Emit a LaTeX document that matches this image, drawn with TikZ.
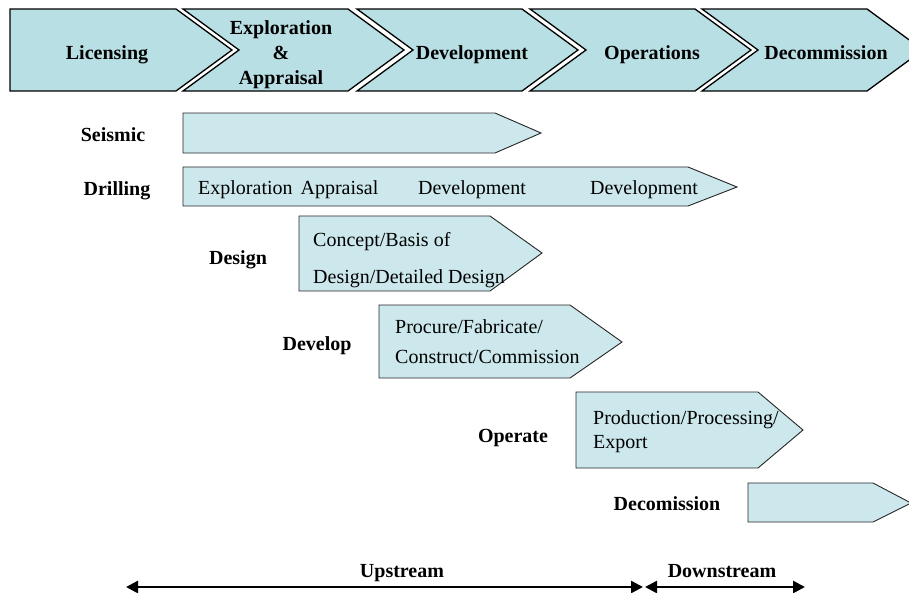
\documentclass[tikz,border=0pt]{standalone}
\usepackage{fontspec}
\setmainfont{Liberation Serif}
\usetikzlibrary{arrows.meta}

\definecolor{phaseblue}{RGB}{184,223,228}
\definecolor{barblue}{RGB}{204,232,236}

\tikzset{
  phase/.style={draw=black, line width=1.3pt, fill=phaseblue, line join=miter},
  bar/.style={draw=black!85, line width=0.9pt, fill=barblue, line join=miter},
  lbl/.style={font=\fontsize{20}{25}\selectfont\bfseries, text height=14pt, text depth=4pt, align=center},
  txt/.style={font=\fontsize{20}{24}\selectfont, text height=14pt, text depth=4pt},
  span/.style={line width=2.6pt, {Triangle[length=12pt,width=12pt]}-{Triangle[length=12pt,width=12pt]}}
}

\begin{document}
\begin{tikzpicture}[x=1pt,y=-1pt]
  \useasboundingbox (0,0) rectangle (909,592);

  % phase chevrons along the top
  \draw [phase] (10,9) -- (176,9) -- (232,50) -- (176,91) -- (10,91) -- cycle;
  \foreach \x in {183,357,530,702}
    \draw [phase] (\x,9) -- (\x+165,9) -- (\x+221,50) -- (\x+165,91) -- (\x,91) -- (\x+56,50) -- cycle;

  \node (lic) [lbl] at (107,54) {Licensing};
  \node (expl) [lbl, text height=, text depth=] at (281,55) {Exploration\\\&\\Appraisal};
  \node (dev) [lbl] at (472,54) {Development};
  \node (ops) [lbl] at (652,54) {Operations};
  \node (dec) [lbl] at (826,54) {Decommission};

  % activity bars
  \draw [bar] (183,113) -- (495,113) -- (541,133) -- (495,153) -- (183,153) -- cycle;
  \draw [bar] (183,167) -- (688,167) -- (737,187) -- (688,206) -- (183,206) -- cycle;
  \draw [bar] (299,216) -- (490,216) -- (542,253) -- (490,291) -- (299,291) -- cycle;
  \draw [bar] (379,305) -- (570,305) -- (622,342) -- (570,378) -- (379,378) -- cycle;
  \draw [bar] (576,392) -- (758,392) -- (803,430) -- (758,468) -- (576,468) -- cycle;
  \draw [bar] (748,483) -- (873,483) -- (911,503) -- (873,522) -- (748,522) -- cycle;

  \node (seis) [lbl] at (113,136) {Seismic};
  \node (drill) [lbl] at (117,190) {Drilling};
  \node (design) [lbl] at (238,259) {Design};
  \node (develop) [lbl] at (317,345) {Develop};
  \node (operate) [lbl] at (513,437) {Operate};
  \node (decom) [lbl] at (667,505) {Decomission};

  % texts inside the bars
  \node (drexpl) [txt, anchor=west, inner sep=0pt] at (198,189) {Exploration\hspace{3pt} Appraisal};
  \node (drdev) [txt] at (472,189) {Development};
  \node (drdevb) [txt] at (644,189) {Development};
  \node (destxt) [anchor=west, inner sep=0pt, align=left, font=\fontsize{20}{37}\selectfont] at (313,260) {Concept/Basis of\\Design/Detailed Design};
  \node (devtxt) [anchor=west, inner sep=0pt, align=left, font=\fontsize{20}{30}\selectfont] at (395,342) {Procure/Fabricate/\\Construct/Commission};
  \node (optxt) [anchor=west, inner sep=0pt, align=left, font=\fontsize{20}{24}\selectfont] at (593,432) {Production/Processing/\\Export};

  % upstream / downstream spans
  \coordinate (upL) at (126,587);
  \coordinate (upR) at (643,587);
  \coordinate (dnL) at (645,587);
  \coordinate (dnR) at (805,587);
  \draw [span] (upL) -- (upR);
  \draw [span] (dnL) -- (dnR);
  \node (up) [lbl] at (402,572) {Upstream};
  \node (down) [lbl] at (722,572) {Downstream};
\end{tikzpicture}
\end{document}
